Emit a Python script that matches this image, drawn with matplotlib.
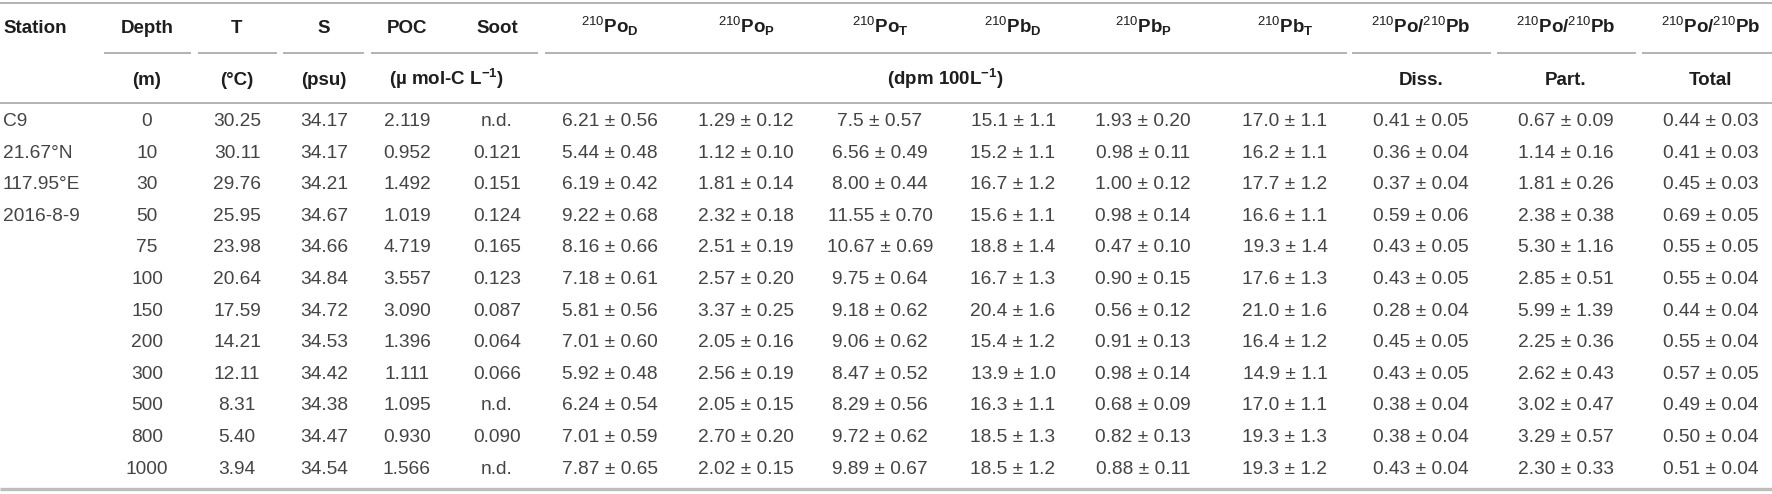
"""Po-210 / Pb-210 profile table at station C9, drawn as a matplotlib figure."""
import matplotlib
matplotlib.use("Agg")
import matplotlib.pyplot as plt

plt.rcParams["font.family"] = ["Liberation Sans", "DejaVu Sans"]
plt.rcParams["mathtext.fontset"] = "custom"
plt.rcParams["mathtext.rm"] = "Liberation Sans"
plt.rcParams["mathtext.bf"] = "Liberation Sans:bold"
plt.rcParams["mathtext.it"] = "Liberation Sans:italic"

# ---------------------------------------------------------------- data
station = ["C9", "21.67°N", "117.95°E", "2016-8-9"]
depth = ["0", "10", "30", "50", "75", "100", "150", "200", "300", "500", "800", "1000"]
temp = ["30.25", "30.11", "29.76", "25.95", "23.98", "20.64", "17.59", "14.21",
        "12.11", "8.31", "5.40", "3.94"]
sal = ["34.17", "34.17", "34.21", "34.67", "34.66", "34.84", "34.72", "34.53",
       "34.42", "34.38", "34.47", "34.54"]
poc = ["2.119", "0.952", "1.492", "1.019", "4.719", "3.557", "3.090", "1.396",
       "1.111", "1.095", "0.930", "1.566"]
soot = ["n.d.", "0.121", "0.151", "0.124", "0.165", "0.123", "0.087", "0.064",
        "0.066", "n.d.", "0.090", "n.d."]
po_d = ["6.21 ± 0.56", "5.44 ± 0.48", "6.19 ± 0.42", "9.22 ± 0.68", "8.16 ± 0.66",
        "7.18 ± 0.61", "5.81 ± 0.56", "7.01 ± 0.60", "5.92 ± 0.48", "6.24 ± 0.54",
        "7.01 ± 0.59", "7.87 ± 0.65"]
po_p = ["1.29 ± 0.12", "1.12 ± 0.10", "1.81 ± 0.14", "2.32 ± 0.18", "2.51 ± 0.19",
        "2.57 ± 0.20", "3.37 ± 0.25", "2.05 ± 0.16", "2.56 ± 0.19", "2.05 ± 0.15",
        "2.70 ± 0.20", "2.02 ± 0.15"]
po_t = ["7.5 ± 0.57", "6.56 ± 0.49", "8.00 ± 0.44", "11.55 ± 0.70", "10.67 ± 0.69",
        "9.75 ± 0.64", "9.18 ± 0.62", "9.06 ± 0.62", "8.47 ± 0.52", "8.29 ± 0.56",
        "9.72 ± 0.62", "9.89 ± 0.67"]
pb_d = ["15.1 ± 1.1", "15.2 ± 1.1", "16.7 ± 1.2", "15.6 ± 1.1", "18.8 ± 1.4",
        "16.7 ± 1.3", "20.4 ± 1.6", "15.4 ± 1.2", "13.9 ± 1.0", "16.3 ± 1.1",
        "18.5 ± 1.3", "18.5 ± 1.2"]
pb_p = ["1.93 ± 0.20", "0.98 ± 0.11", "1.00 ± 0.12", "0.98 ± 0.14", "0.47 ± 0.10",
        "0.90 ± 0.15", "0.56 ± 0.12", "0.91 ± 0.13", "0.98 ± 0.14", "0.68 ± 0.09",
        "0.82 ± 0.13", "0.88 ± 0.11"]
pb_t = ["17.0 ± 1.1", "16.2 ± 1.1", "17.7 ± 1.2", "16.6 ± 1.1", "19.3 ± 1.4",
        "17.6 ± 1.3", "21.0 ± 1.6", "16.4 ± 1.2", "14.9 ± 1.1", "17.0 ± 1.1",
        "19.3 ± 1.3", "19.3 ± 1.2"]
ratio_diss = ["0.41 ± 0.05", "0.36 ± 0.04", "0.37 ± 0.04", "0.59 ± 0.06", "0.43 ± 0.05",
              "0.43 ± 0.05", "0.28 ± 0.04", "0.45 ± 0.05", "0.43 ± 0.05", "0.38 ± 0.04",
              "0.38 ± 0.04", "0.43 ± 0.04"]
ratio_part = ["0.67 ± 0.09", "1.14 ± 0.16", "1.81 ± 0.26", "2.38 ± 0.38", "5.30 ± 1.16",
              "2.85 ± 0.51", "5.99 ± 1.39", "2.25 ± 0.36", "2.62 ± 0.43", "3.02 ± 0.47",
              "3.29 ± 0.57", "2.30 ± 0.33"]
ratio_tot = ["0.44 ± 0.03", "0.41 ± 0.03", "0.45 ± 0.03", "0.69 ± 0.05", "0.55 ± 0.05",
             "0.55 ± 0.04", "0.44 ± 0.04", "0.55 ± 0.04", "0.57 ± 0.05", "0.49 ± 0.04",
             "0.50 ± 0.04", "0.51 ± 0.04"]


def iso(el, sub=None):
    s = r"${}^{\mathrm{210}}\mathbf{" + el + "}"
    if sub:
        s += r"_{\mathbf{" + sub + "}}"
    return s + "$"


ratio_head = r"${}^{\mathrm{210}}\mathbf{Po/}{}^{\mathrm{210}}\mathbf{Pb}$"

# column header, unit label, values, x centre (px)
columns = [
    ("Depth", "(m)", depth, 147),
    ("T", "(°C)", temp, 237),
    ("S", "(psu)", sal, 324),
    ("POC", None, poc, 407),
    ("Soot", None, soot, 497),
    (iso("Po", "D"), None, po_d, 610),
    (iso("Po", "P"), None, po_p, 746),
    (iso("Po", "T"), None, po_t, 880),
    (iso("Pb", "D"), None, pb_d, 1013),
    (iso("Pb", "P"), None, pb_p, 1143),
    (iso("Pb", "T"), None, pb_t, 1285),
    (ratio_head, "Diss.", ratio_diss, 1421),
    (ratio_head, "Part.", ratio_part, 1566),
    (ratio_head, "Total", ratio_tot, 1711),
]

W, H = 1772, 494
fig = plt.figure(figsize=(W / 100, H / 100), dpi=100)
ax = fig.add_axes([0, 0, 1, 1])
ax.set_xlim(0, W)
ax.set_ylim(H, 0)
ax.axis("off")

FS_HEAD = 13.5
FS_BODY = 13.8
HEAD_C = "#1e1e1e"
BODY_C = "#444444"
LINE_C = "#a6a6a6"

y_head, y_unit = 33, 85          # baselines of the two header rows
y_row0, dy = 126, 31.6           # baseline of first data row, row pitch

# rules
ax.hlines(3, 0, W, color=LINE_C, lw=1.2)
ax.hlines(103, 0, W, color=LINE_C, lw=1.2)
ax.hlines(489, 0, W, color="#bdbdbd", lw=2.4)
for x0, x1 in [(104, 191), (198, 277), (283, 364), (371, 538), (545, 1347),
               (1352, 1491), (1497, 1636), (1642, W)]:
    ax.hlines(53, x0, x1, color=LINE_C, lw=1.2)

# header row
ax.text(3, y_head, "Station", ha="left", va="baseline", fontsize=FS_HEAD,
        fontweight="bold", color=HEAD_C)
for head, unit, vals, xc in columns:
    ax.text(xc, y_head, head, ha="center", va="baseline", fontsize=FS_HEAD,
            fontweight="bold", color=HEAD_C)
    if unit:
        ax.text(xc, y_unit, unit, ha="center", va="baseline", fontsize=FS_HEAD,
                fontweight="bold", color=HEAD_C)
    for i, v in enumerate(vals):
        ax.text(xc, y_row0 + i * dy, v, ha="center", va="baseline", fontsize=FS_BODY,
                color=BODY_C)

ax.text(446, y_unit, r"(µ mol-C L$^{\mathbf{-1}}$)", ha="center", va="baseline",
        fontsize=FS_HEAD, fontweight="bold", color=HEAD_C)
ax.text(945, y_unit, r"(dpm 100L$^{\mathbf{-1}}$)", ha="center", va="baseline",
        fontsize=FS_HEAD, fontweight="bold", color=HEAD_C)

for i, s in enumerate(station):
    ax.text(3, y_row0 + i * dy, s, ha="left", va="baseline", fontsize=FS_BODY,
            color=BODY_C)

fig.savefig("out.png", dpi=100)
